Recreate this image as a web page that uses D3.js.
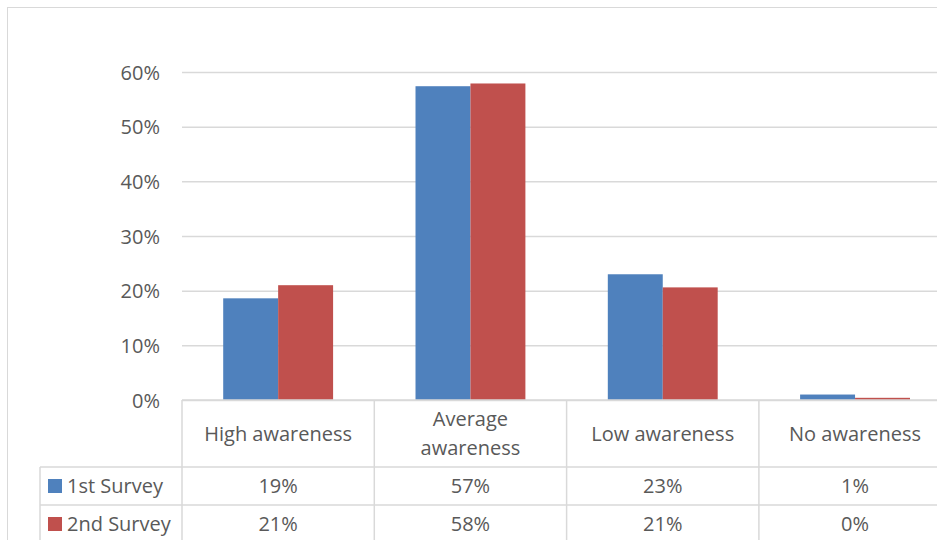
<!DOCTYPE html>
<html>
<head>
<meta charset="utf-8">
<script src="https://cdn.jsdelivr.net/npm/d3@7"></script>
<style>
  html, body { margin: 0; padding: 0; background: #fff; }
  svg { display: block; }
  text { font-family: "Open Sans", "Noto Sans", sans-serif; fill: #595959; }
</style>
</head>
<body>
<svg id="chart" width="937" height="540"></svg>
<script>
// Awareness levels (categories) and the two survey rounds
const categories = [["High awareness"], ["Average", "awareness"], ["Low awareness"], ["No awareness"]];
const categoryKeys = ["High awareness", "Average awareness", "Low awareness", "No awareness"];
const seriesNames = ["1st Survey", "2nd Survey"];
const survey1 = [0.186, 0.574, 0.230, 0.010];
const survey2 = [0.210, 0.579, 0.206, 0.004];
const yTicks = [0, 0.1, 0.2, 0.3, 0.4, 0.5, 0.6];
const colors = ["#4F81BD", "#C0504D"];

const seriesValues = [survey1, survey2];
const gridColor = "#d9d9d9";
const fontSize = 20;

const svg = d3.select("#chart");

// Outer chart frame
svg.append("rect")
  .attr("x", 7.5).attr("y", 7.5)
  .attr("width", 1000).attr("height", 600)
  .attr("fill", "none").attr("stroke", gridColor);

// Plot geometry
const plotLeft = 182, plotTop = 72, plotBottom = 400;
const catWidth = 192.3;
const plotRight = plotLeft + catWidth * categories.length;

const x0 = d3.scaleBand().domain(categoryKeys).range([plotLeft, plotRight]).paddingInner(0).paddingOuter(0);
const x1 = d3.scaleBand().domain(seriesNames).range([0, x0.bandwidth()]).paddingInner(0).paddingOuter(0.75);
const y = d3.scaleLinear().domain([0, 0.6]).range([plotBottom, plotTop]);
const pct = d3.format(".0%");

// Gridlines + y labels
const yAxis = d3.axisLeft(y)
  .tickValues(yTicks)
  .tickFormat(pct)
  .tickSize(-(plotRight - plotLeft))
  .tickPadding(22);
const gy = svg.append("g").attr("transform", `translate(${plotLeft},0)`).call(yAxis);
gy.select(".domain").remove();
gy.selectAll(".tick line").attr("stroke", gridColor).attr("stroke-width", 1.5);
gy.selectAll(".tick text")
  .style("font-size", fontSize + "px")
  .attr("fill", "#595959")
  .attr("dy", "0.35em");

// Bars
const groups = svg.append("g").selectAll("g")
  .data(categoryKeys)
  .join("g")
  .attr("transform", d => `translate(${x0(d)},0)`);

groups.selectAll("rect")
  .data((d, i) => seriesNames.map((s, j) => ({ s, j, v: seriesValues[j][i] })))
  .join("rect")
  .attr("x", d => x1(d.s))
  .attr("y", d => y(d.v))
  .attr("width", x1.bandwidth())
  .attr("height", d => y(0) - y(d.v))
  .attr("fill", d => colors[d.j]);

// Data table below the axis
const headerBottom = 467, rowH = 38;
const legendLeft = 40;
const table = svg.append("g").attr("stroke", gridColor).attr("stroke-width", 1.5);

table.append("line").attr("x1", plotLeft).attr("x2", plotRight).attr("y1", plotBottom).attr("y2", plotBottom);
for (let r = 0; r < 3; r++) {
  const yy = headerBottom + r * rowH;
  table.append("line").attr("x1", legendLeft).attr("x2", plotRight).attr("y1", yy).attr("y2", yy);
}
table.append("line").attr("x1", legendLeft).attr("x2", legendLeft).attr("y1", headerBottom).attr("y2", 560);
categoryKeys.concat([null]).forEach((k, i) => {
  const xx = k ? x0(k) : plotRight;
  table.append("line").attr("x1", xx).attr("x2", xx).attr("y1", plotBottom).attr("y2", 560);
});

// Header row: category names
categories.forEach((lines, i) => {
  const cx = x0(categoryKeys[i]) + x0.bandwidth() / 2;
  const cy = (plotBottom + headerBottom) / 2;
  const lh = 29;
  const t = svg.append("text")
    .attr("text-anchor", "middle")
    .style("font-size", fontSize + "px");
  lines.forEach((ln, k) => {
    t.append("tspan")
      .attr("x", cx)
      .attr("y", cy + (k - (lines.length - 1) / 2) * lh)
      .attr("dy", "0.35em")
      .text(ln);
  });
});

// Data rows with legend keys
seriesNames.forEach((s, j) => {
  const cy = headerBottom + j * rowH + rowH / 2;
  svg.append("rect")
    .attr("x", 48).attr("y", cy - 7)
    .attr("width", 14).attr("height", 14)
    .attr("fill", colors[j]);
  svg.append("text")
    .attr("x", 67).attr("y", cy).attr("dy", "0.35em")
    .style("font-size", fontSize + "px")
    .text(s);
  categoryKeys.forEach((k, i) => {
    svg.append("text")
      .attr("x", x0(k) + x0.bandwidth() / 2)
      .attr("y", cy).attr("dy", "0.35em")
      .attr("text-anchor", "middle")
      .style("font-size", fontSize + "px")
      .text(pct(seriesValues[j][i]));
  });
});
</script>
</body>
</html>
